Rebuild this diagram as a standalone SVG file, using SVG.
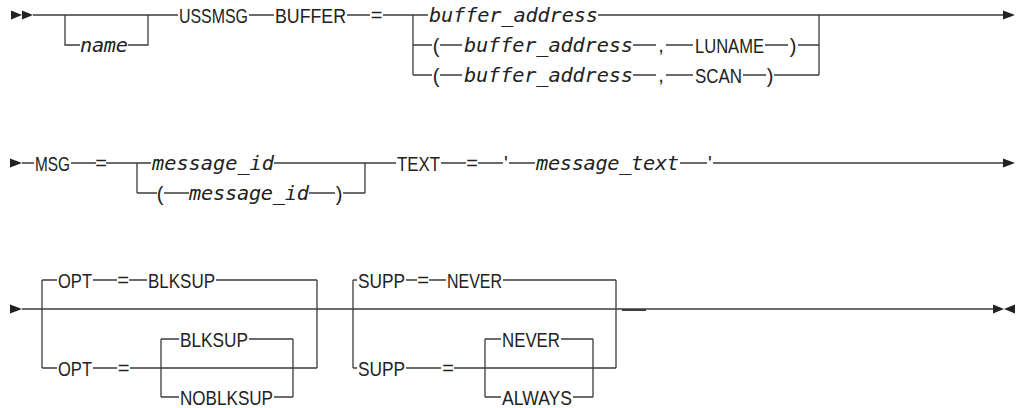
<svg xmlns="http://www.w3.org/2000/svg" width="1017" height="408" viewBox="0 0 1017 408">
<style>
.t{font-family:"Liberation Sans",Arial,sans-serif;font-size:21px;fill:#222}
.p{font-family:"Liberation Sans",Arial,sans-serif;font-size:20px;fill:#222;text-anchor:middle}
.i{font-family:"DejaVu Sans Mono","Liberation Mono",monospace;font-style:italic;font-size:20.3px;fill:#222}
.c{fill:none;stroke:#3c3c3c;stroke-width:1.3}
.a{fill:#222}
</style>
<rect width="1017" height="408" fill="#fff"/>
<g id="connectors">
<path class="c" d="M33,15H178M65,15V45H80M128,45H148V15M249,15H274M347,15H370M383,15H428M413,15V75M598,15H1003M819,15V75"/>
<path class="c" d="M413,45H432M440,45H462M633,45H656M666,45H693M765,45H788M798,45H819"/>
<path class="c" d="M413,75H432M440,75H462M633,75H656M666,75H693M743,75H766M774,75H819"/>
<polygon class="a" points="11,10.5 22,15 11,19.5"/>
<polygon class="a" points="22,10.5 33,15 22,19.5"/>
<polygon class="a" points="1003,10.5 1015,15 1003,19.5"/>
<path class="c" d="M22,163H34M71,163H96M106,163H151M137,163V193M274,163H396M365,163V193M441,163H466M478,163H503M509,163H535M680,163H707M713,163H1003"/>
<path class="c" d="M137,193H157M164,193H189M309,193H335M343,193H365"/>
<polygon class="a" points="10,158.5 22,163 10,167.5"/>
<polygon class="a" points="1003,158.5 1015,163 1003,167.5"/>
<path class="c" d="M22,309H993"/>
<path class="c" d="M622,310H646" style="stroke-width:2"/>
<path class="c" d="M42,280V368M317,280V368M42,280H57M93,280H117M129,280H147M216,280H317"/>
<path class="c" d="M42,368H57M93,368H117M130,368H317M161,339V397M293,339V397M161,339H179M249,339H293M161,397H179M274,397H293"/>
<path class="c" d="M353,280V368M616,280V368M353,280H357M406,280H417M429,280H446M503,280H616"/>
<path class="c" d="M353,368H357M406,368H441M454,368H616M485,339V397M593,339V397M485,339H501M561,339H593M485,397H501M573,397H593"/>
<polygon class="a" points="10,304.5 22,309 10,313.5"/>
<polygon class="a" points="993,304.5 1004,309 993,313.5"/>
<polygon class="a" points="1015,304.5 1004,309 1015,313.5"/>
</g>
<g id="n-name"><text class="i" x="80" y="52" textLength="48" lengthAdjust="spacing">name</text></g>
<g id="n-ussmsg"><text class="t" x="179" y="22.5" textLength="69" lengthAdjust="spacingAndGlyphs">USSMSG</text></g>
<g id="n-buffer"><text class="t" x="275" y="22.5" textLength="71" lengthAdjust="spacingAndGlyphs">BUFFER</text></g>
<g id="n-eq1"><text class="p" x="376.5" y="22">=</text></g>
<g id="n-buf1"><text class="i" x="429" y="22" textLength="169" lengthAdjust="spacing">buffer_address</text></g>
<g id="n-lp2"><text class="p" x="436" y="52.5">(</text></g>
<g id="n-buf2"><text class="i" x="464" y="52" textLength="169" lengthAdjust="spacing">buffer_address</text></g>
<g id="n-cm2"><text class="p" x="661" y="52">,</text></g>
<g id="n-luname"><text class="t" x="695" y="52.5" textLength="69" lengthAdjust="spacingAndGlyphs">LUNAME</text></g>
<g id="n-rp2"><text class="p" x="793" y="52.5">)</text></g>
<g id="n-lp3"><text class="p" x="436" y="82.5">(</text></g>
<g id="n-buf3"><text class="i" x="464" y="82" textLength="169" lengthAdjust="spacing">buffer_address</text></g>
<g id="n-cm3"><text class="p" x="661" y="82">,</text></g>
<g id="n-scan"><text class="t" x="695" y="82.5" textLength="47" lengthAdjust="spacingAndGlyphs">SCAN</text></g>
<g id="n-rp3"><text class="p" x="770" y="82.5">)</text></g>
<g id="n-msg"><text class="t" x="35" y="170.5" textLength="35" lengthAdjust="spacingAndGlyphs">MSG</text></g>
<g id="n-eq2"><text class="p" x="101" y="170">=</text></g>
<g id="n-mid1"><text class="i" x="152" y="170" textLength="122" lengthAdjust="spacing">message_id</text></g>
<g id="n-lp4"><text class="p" x="160" y="200.5">(</text></g>
<g id="n-mid2"><text class="i" x="189" y="200" textLength="120" lengthAdjust="spacing">message_id</text></g>
<g id="n-rp4"><text class="p" x="339" y="200.5">)</text></g>
<g id="n-text"><text class="t" x="397" y="170.5" textLength="43" lengthAdjust="spacingAndGlyphs">TEXT</text></g>
<g id="n-eq3"><text class="p" x="472" y="170">=</text></g>
<g id="n-q1"><text class="p" x="506" y="170">'</text></g>
<g id="n-mtext"><text class="i" x="536" y="170" textLength="143" lengthAdjust="spacing">message_text</text></g>
<g id="n-q2"><text class="p" x="710" y="170">'</text></g>
<g id="n-opt1"><text class="t" x="58" y="287.5" textLength="34" lengthAdjust="spacingAndGlyphs">OPT</text></g>
<g id="n-eq4"><text class="p" x="123" y="287">=</text></g>
<g id="n-blksup1"><text class="t" x="148" y="287.5" textLength="67" lengthAdjust="spacingAndGlyphs">BLKSUP</text></g>
<g id="n-opt2"><text class="t" x="58" y="375.5" textLength="34" lengthAdjust="spacingAndGlyphs">OPT</text></g>
<g id="n-eq5"><text class="p" x="123.5" y="375">=</text></g>
<g id="n-blksup2"><text class="t" x="180" y="346.5" textLength="68" lengthAdjust="spacingAndGlyphs">BLKSUP</text></g>
<g id="n-noblksup"><text class="t" x="180" y="404.5" textLength="93" lengthAdjust="spacingAndGlyphs">NOBLKSUP</text></g>
<g id="n-supp1"><text class="t" x="358" y="287.5" textLength="47" lengthAdjust="spacingAndGlyphs">SUPP</text></g>
<g id="n-eq6"><text class="p" x="423" y="287">=</text></g>
<g id="n-never1"><text class="t" x="447" y="287.5" textLength="55" lengthAdjust="spacingAndGlyphs">NEVER</text></g>
<g id="n-supp2"><text class="t" x="358" y="375.5" textLength="47" lengthAdjust="spacingAndGlyphs">SUPP</text></g>
<g id="n-eq7"><text class="p" x="448" y="375">=</text></g>
<g id="n-never2"><text class="t" x="502" y="346.5" textLength="58" lengthAdjust="spacingAndGlyphs">NEVER</text></g>
<g id="n-always"><text class="t" x="502" y="404.5" textLength="70" lengthAdjust="spacingAndGlyphs">ALWAYS</text></g>
</svg>
